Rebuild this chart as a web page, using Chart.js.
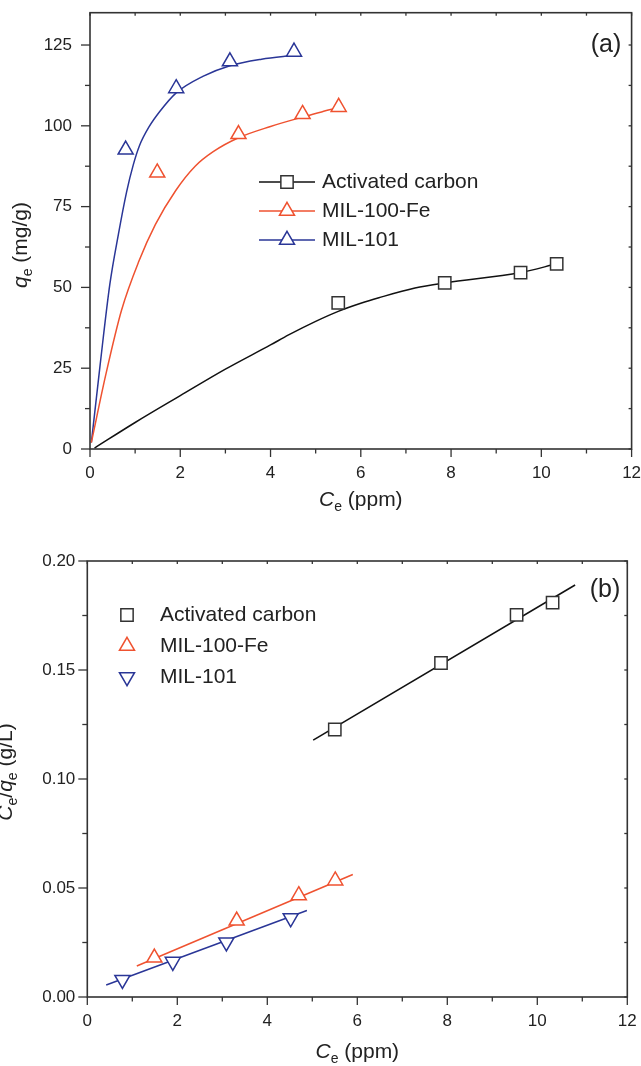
<!DOCTYPE html>
<html>
<head>
<meta charset="utf-8">
<script src="https://cdn.jsdelivr.net/npm/chart.js"></script>
<style>
    html, body { margin: 0; padding: 0; background: #fff; }
    body { width: 641px; height: 1066px; overflow: hidden; }
    canvas { display: block; }
</style>
</head>
<body>
<canvas id="chart-a" width="641" height="533"></canvas>
<canvas id="chart-b" width="641" height="533"></canvas>
<script>
// Series names and colours
const seriesNames = ['Activated carbon', 'MIL-100-Fe', 'MIL-101'];
const seriesColors = ['#333333', '#ef5230', '#2a3697'];

// (a) isotherm: measured points
const ceCarbon = [5.50, 7.86, 9.54, 10.34];
const qeCarbon = [45.2, 51.4, 54.6, 57.3];
const ceMil100 = [1.49, 3.29, 4.71, 5.51];
const qeMil100 = [85.5, 97.4, 103.6, 105.8];
const ceMil101 = [0.79, 1.91, 3.10, 4.52];
const qeMil101 = [92.6, 111.6, 119.9, 122.9];

// (a) fitted curves
const fitCeCarbon = [0.1, 1, 2, 3, 4, 4.4, 5, 5.5, 6, 6.4, 7.2, 7.86, 9.54, 10.34];
const fitQeCarbon = [0.3, 8.2, 16.5, 24.7, 32.2, 35.3, 39.5, 42.6, 45.1, 46.8, 49.8, 51.4, 54.6, 57.3];
const fitCeMil100 = [0.03, 0.35, 0.7, 1.08, 1.45, 1.9, 2.33, 2.73, 3.29, 4.0, 4.71, 5.13, 5.51];
const fitQeMil100 = [2, 23, 43, 58, 69.5, 80, 87.5, 92, 96.3, 99.8, 102.7, 104.3, 105.6];
const fitCeMil101 = [0.03, 0.22, 0.44, 0.63, 0.81, 0.96, 1.1, 1.3, 1.55, 1.91, 2.5, 3.1, 3.8, 4.52];
const fitQeMil101 = [2, 25.5, 51, 66.5, 79.5, 88, 94, 99.5, 104.5, 110.2, 115.3, 118.6, 120.6, 121.8];

// (b) linearised Langmuir: measured points
const ratioCarbon = [0.1227, 0.1532, 0.1753, 0.1809];
const ceMil100b = [1.49, 3.32, 4.70, 5.51];
const ratioMil100 = [0.0180, 0.0350, 0.0466, 0.0534];
const ceMil101b = [0.78, 1.90, 3.09, 4.52];
const ratioMil101 = [0.0079, 0.0162, 0.0251, 0.0362];

// (b) regression lines (end points)
const lineCeCarbon = [5.02, 10.84];
const lineRatioCarbon = [0.1178, 0.1890];
const lineCeMil100 = [1.10, 5.90];
const lineRatioMil100 = [0.0142, 0.0562];
const lineCeMil101 = [0.42, 4.88];
const lineRatioMil101 = [0.0055, 0.0397];

// Tick values
const xTicksStep = 2;
const yTicksStepA = 25;
const yTicksStepB = 0.05;

const FONT = '"Liberation Sans", Arial, Helvetica, sans-serif';

function toPoints(xs, ys) {
    return xs.map((x, i) => ({ x: x, y: ys[i] }));
}

// Hollow marker, same shapes Chart.js uses
function drawMarker(ctx, style, rotation, x, y, r, color) {
    ctx.save();
    ctx.translate(x, y);
    ctx.rotate(rotation * Math.PI / 180);
    ctx.beginPath();
    if (style === 'rect') {
        const s = Math.SQRT1_2 * r;
        ctx.rect(-s, -s, 2 * s, 2 * s);
    } else {
        for (let k = 0; k < 3; k++) {
            const a = -Math.PI / 2 + k * 2 * Math.PI / 3;
            const px = Math.cos(a) * r, py = Math.sin(a) * r;
            if (k === 0) ctx.moveTo(px, py); else ctx.lineTo(px, py);
        }
        ctx.closePath();
    }
    ctx.fillStyle = '#fff';
    ctx.fill();
    ctx.lineWidth = 1.5;
    ctx.strokeStyle = color;
    ctx.stroke();
    ctx.restore();
}

// Text with italic letters and subscripts, centred at (cx, baseline)
function drawRich(ctx, parts, cx, baseY, angle) {
    const size = 21, subSize = 14;
    const fontOf = p => (p.i ? 'italic ' : '') + (p.sub ? subSize : size) + 'px ' + FONT;
    let total = 0;
    parts.forEach(p => { ctx.font = fontOf(p); total += ctx.measureText(p.t).width; });
    ctx.save();
    ctx.translate(cx, baseY);
    ctx.rotate(angle);
    ctx.fillStyle = '#222';
    ctx.textBaseline = 'alphabetic';
    ctx.textAlign = 'left';
    let x = -total / 2;
    parts.forEach(p => {
        ctx.font = fontOf(p);
        ctx.fillText(p.t, x, p.sub ? 5 : 0);
        x += ctx.measureText(p.t).width;
    });
    ctx.restore();
}

// Frame, ticks, legend, titles
function makeDecor(s) {
    return {
        id: 'decor',
        afterDatasetsDraw(chart) {
            const ctx = chart.ctx;
            const a = chart.chartArea;
            const xs = chart.scales.x, ys = chart.scales.y;
            ctx.save();
            ctx.strokeStyle = '#333';
            ctx.lineWidth = 1.6;
            ctx.strokeRect(a.left, a.top, a.right - a.left, a.bottom - a.top);

            ctx.lineWidth = 1.3;
            const seg = (x1, y1, x2, y2) => {
                ctx.beginPath(); ctx.moveTo(x1, y1); ctx.lineTo(x2, y2); ctx.stroke();
            };
            const nx = Math.floor((xs.max - xs.min) / s.xMinor + 1e-6);
            for (let k = 0; k <= nx; k++) {
                const px = xs.getPixelForValue(xs.min + k * s.xMinor);
                const major = k % Math.round(s.xMajor / s.xMinor) === 0;
                seg(px, a.bottom, px, a.bottom + (major ? 8 : 4.5));
                seg(px, a.top, px, a.top + 3);
            }
            const ny = Math.floor((ys.max - ys.min) / s.yMinor + 1e-6);
            for (let k = 0; k <= ny; k++) {
                const py = ys.getPixelForValue(ys.min + k * s.yMinor);
                const major = k % Math.round(s.yMajor / s.yMinor) === 0;
                seg(a.left - (major ? 9 : 5), py, a.left, py);
                seg(a.right - 3, py, a.right, py);
            }

            // legend
            ctx.font = '21px ' + FONT;
            ctx.textBaseline = 'middle';
            ctx.textAlign = 'left';
            seriesNames.forEach((name, i) => {
                const y = s.legend.y[i];
                const col = seriesColors[i];
                if (s.legend.line) {
                    ctx.strokeStyle = i === 0 ? '#111' : col;
                    ctx.lineWidth = 1.5;
                    seg(s.legend.line[0], y, s.legend.line[1], y);
                }
                drawMarker(ctx, s.markers[i], s.rotations[i], s.legend.markerX, y, 8.7, col);
                ctx.fillStyle = '#222';
                ctx.fillText(name, s.legend.textX, y);
            });

            // panel label
            ctx.font = '25px ' + FONT;
            ctx.textAlign = 'center';
            ctx.fillStyle = '#222';
            ctx.fillText(s.panel, s.panelPos[0], s.panelPos[1]);

            drawRich(ctx, [{ t: 'C', i: true }, { t: 'e', sub: true }, { t: ' (ppm)' }], (a.left + a.right) / 2, s.xTitleY, 0);
            drawRich(ctx, s.yTitle, s.yTitlePos[1], s.yTitlePos[0], -Math.PI / 2);
            ctx.restore();
        }
    };
}

function scatterSet(i, xs, ys, style, rotation) {
    return {
        label: seriesNames[i],
        data: toPoints(xs, ys),
        showLine: false,
        pointStyle: style,
        pointRotation: rotation,
        pointRadius: 8.7,
        pointHoverRadius: 8.7,
        pointBorderWidth: 1.5,
        pointBorderColor: seriesColors[i],
        pointBackgroundColor: '#fff',
        order: 1
    };
}

function lineSet(i, xs, ys, smooth) {
    return {
        label: seriesNames[i] + ' fit',
        data: toPoints(xs, ys),
        showLine: true,
        borderColor: i === 0 ? '#111' : seriesColors[i],
        borderWidth: 1.5,
        pointRadius: 0,
        pointHoverRadius: 0,
        cubicInterpolationMode: smooth ? 'monotone' : 'default',
        order: 2
    };
}

function axisOptions(p) {
    const tickFont = { family: FONT, size: 17 };
    return {
        x: {
            type: 'linear', min: 0, max: 12,
            grid: { display: false, drawTicks: false },
            border: { display: false },
            ticks: { stepSize: xTicksStep, padding: p.xPad, color: '#222', font: tickFont, maxRotation: 0, includeBounds: false },
            afterFit: sc => { sc.height = p.xHeight; sc.paddingLeft = 0; sc.paddingRight = 0; }
        },
        y: {
            type: 'linear', min: 0, max: p.yMax,
            grid: { display: false, drawTicks: false },
            border: { display: false },
            ticks: {
                stepSize: p.yStep, padding: p.yPad, color: '#222', font: tickFont, includeBounds: false,
                callback: p.fmt
            },
            afterFit: sc => { sc.width = p.yWidth; sc.paddingTop = 0; sc.paddingBottom = 0; }
        }
    };
}

const baseOptions = {
    responsive: false,
    animation: false,
    devicePixelRatio: 1,
    events: [],
    plugins: { legend: { display: false }, tooltip: { enabled: false } }
};

// Chart (a)
new Chart(document.getElementById('chart-a'), {
    type: 'scatter',
    data: {
        datasets: [
            scatterSet(0, ceCarbon, qeCarbon, 'rect', 0),
            scatterSet(1, ceMil100, qeMil100, 'triangle', 0),
            scatterSet(2, ceMil101, qeMil101, 'triangle', 0),
            lineSet(0, fitCeCarbon, fitQeCarbon, true),
            lineSet(1, fitCeMil100, fitQeMil100, true),
            lineSet(2, fitCeMil101, fitQeMil101, true)
        ]
    },
    options: Object.assign({}, baseOptions, {
        layout: { autoPadding: false, padding: { left: 0, right: 9.4, top: 12.7, bottom: 0 } },
        scales: axisOptions({ yMax: 135, yStep: yTicksStepA, xPad: 14, yPad: 18, xHeight: 84, yWidth: 90, fmt: v => v })
    }),
    plugins: [makeDecor({
        xMajor: 2, xMinor: 1, yMajor: 25, yMinor: 12.5,
        markers: ['rect', 'triangle', 'triangle'], rotations: [0, 0, 0],
        legend: { y: [182, 211, 240], line: [259, 315], markerX: 287, textX: 322 },
        panel: '(a)', panelPos: [606, 45],
        xTitleY: 506,
        yTitle: [{ t: 'q', i: true }, { t: 'e', sub: true }, { t: ' (mg/g)' }],
        yTitlePos: [245, 27]
    })]
});

// Chart (b)
new Chart(document.getElementById('chart-b'), {
    type: 'scatter',
    data: {
        datasets: [
            scatterSet(0, ceCarbon, ratioCarbon, 'rect', 0),
            scatterSet(1, ceMil100b, ratioMil100, 'triangle', 0),
            scatterSet(2, ceMil101b, ratioMil101, 'triangle', 180),
            lineSet(0, lineCeCarbon, lineRatioCarbon, false),
            lineSet(1, lineCeMil100, lineRatioMil100, false),
            lineSet(2, lineCeMil101, lineRatioMil101, false)
        ]
    },
    options: Object.assign({}, baseOptions, {
        layout: { autoPadding: false, padding: { left: 0, right: 13.7, top: 28, bottom: 0 } },
        scales: axisOptions({ yMax: 0.2, yStep: yTicksStepB, xPad: 14, yPad: 12, xHeight: 69, yWidth: 87.3, fmt: v => v.toFixed(2) })
    }),
    plugins: [makeDecor({
        xMajor: 2, xMinor: 1, yMajor: 0.05, yMinor: 0.025,
        markers: ['rect', 'triangle', 'triangle'], rotations: [0, 0, 180],
        legend: { y: [82, 113, 144], line: null, markerX: 127, textX: 160 },
        panel: '(b)', panelPos: [605, 57],
        xTitleY: 525,
        yTitle: [{ t: 'C', i: true }, { t: 'e', sub: true }, { t: '/' }, { t: 'q', i: true }, { t: 'e', sub: true }, { t: ' (g/L)' }],
        yTitlePos: [239, 12]
    })]
});
</script>
</body>
</html>
